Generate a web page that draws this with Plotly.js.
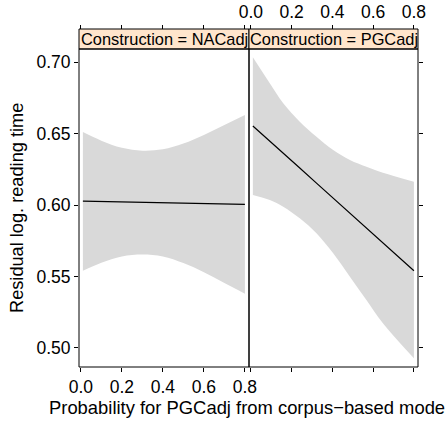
<!DOCTYPE html>
<html>
<head>
<meta charset="utf-8">
<script src="https://cdn.plot.ly/plotly-3.0.1.min.js"></script>
<style>html,body{margin:0;padding:0;background:#fff;}#chart{width:445px;height:422px;}</style>
</head>
<body>
<div id="chart"></div>
<script>
// Panel labels
var panels = ["Construction = NACadj", "Construction = PGCadj"];

// NACadj panel
var xNAC = [0.01, 0.1, 0.2, 0.3, 0.4, 0.5, 0.6, 0.7, 0.80];
var fitNAC = [0.6027, 0.6024, 0.6021, 0.6018, 0.6015, 0.6012, 0.6009, 0.6006, 0.6004];
var upperNAC = [0.651, 0.645, 0.640, 0.638, 0.639, 0.643, 0.649, 0.656, 0.663];
var lowerNAC = [0.554, 0.5596, 0.564, 0.5654, 0.564, 0.5594, 0.553, 0.5454, 0.538];

// PGCadj panel
var xPGC = [0.01, 0.093, 0.159, 0.24, 0.322, 0.404, 0.486, 0.567, 0.648, 0.80];
var fitPGC = [0.6553, 0.6449, 0.6364, 0.6259, 0.6153, 0.6047, 0.5942, 0.5837, 0.5732, 0.5540];
var upperPGC = [0.7033, 0.6851, 0.6711, 0.6583, 0.6478, 0.6385, 0.6315, 0.6268, 0.6226, 0.6163];
var lowerPGC = [0.607, 0.6035, 0.5988, 0.5907, 0.5802, 0.5662, 0.5499, 0.5336, 0.5173, 0.4928];

// Ticks
var xTickVals = [0, 0.2, 0.4, 0.6, 0.8];
var xTickText = ["0.0", "0.2", "0.4", "0.6", "0.8"];
var yTickVals = [0.50, 0.55, 0.60, 0.65, 0.70];
var yTickText = ["0.50", "0.55", "0.60", "0.65", "0.70"];

var xTitle = "Probability for PGCadj from corpus\u2212based model";
var yTitle = "Residual log. reading time";

var FONT = "Liberation Sans, Arial, Helvetica, sans-serif";
var bandColor = "#D9D9D9";
var stripColor = "#FFE5CC";

function band(xs, lo, hi, xa, ya) {
  return [
    {x: xs, y: lo, xaxis: xa, yaxis: ya, type: "scatter", mode: "lines",
     line: {width: 0, shape: "spline", color: bandColor}, hoverinfo: "skip", showlegend: false},
    {x: xs, y: hi, xaxis: xa, yaxis: ya, type: "scatter", mode: "lines", fill: "tonexty",
     fillcolor: bandColor, line: {width: 0, shape: "spline", color: bandColor}, hoverinfo: "skip", showlegend: false}
  ];
}
function fitLine(xs, ys, xa, ya) {
  return {x: xs, y: ys, xaxis: xa, yaxis: ya, type: "scatter", mode: "lines",
          line: {width: 1.2, color: "#000"}, hoverinfo: "skip", showlegend: false};
}
// invisible carrier so the top (overlaying) axes are drawn
function carrier(xs, ys, xa, ya) {
  return {x: xs, y: ys, xaxis: xa, yaxis: ya, type: "scatter", mode: "lines", opacity: 0,
          line: {width: 0, color: "rgba(0,0,0,0)"}, hoverinfo: "skip", showlegend: false};
}

var data = []
  .concat(band(xNAC, lowerNAC, upperNAC, "x", "y"))
  .concat([fitLine(xNAC, fitNAC, "x", "y")])
  .concat(band(xPGC, lowerPGC, upperPGC, "x2", "y2"))
  .concat([fitLine(xPGC, fitPGC, "x2", "y2")])
  .concat([carrier(xNAC, fitNAC, "x3", "y"), carrier(xPGC, fitPGC, "x4", "y2")]);

var xr = [-0.009, 0.82];
var yr = [0.4867, 0.7091];
var yTop = 318 / 338;
var split = 170 / 339;
var TICK = 17.5;

function xAxisBase(domain) {
  return {domain: domain, range: xr, autorange: false, tickvals: xTickVals, ticktext: xTickText,
          ticks: "outside", ticklen: 4, tickwidth: 1, tickcolor: "#000",
          showgrid: false, zeroline: false, showline: false, fixedrange: true,
          tickfont: {family: FONT, size: TICK, color: "#000"}};
}

var layout = {
  width: 445, height: 422,
  margin: {l: 79, r: 27, t: 29, b: 55, pad: 0},
  paper_bgcolor: "#fff", plot_bgcolor: "#fff",
  font: {family: FONT, color: "#000"},
  showlegend: false,
  xaxis: Object.assign(xAxisBase([0, split]), {anchor: "y", side: "bottom", showticklabels: true}),
  xaxis2: Object.assign(xAxisBase([split, 1]), {anchor: "y2", side: "bottom", showticklabels: false}),
  xaxis3: Object.assign(xAxisBase([0, split]), {overlaying: "x", anchor: "free", position: 1, side: "top", showticklabels: false}),
  xaxis4: Object.assign(xAxisBase([split, 1]), {overlaying: "x2", anchor: "free", position: 1, side: "top", showticklabels: true}),
  yaxis: {domain: [0, yTop], range: yr, autorange: false, anchor: "x", side: "left", tickvals: yTickVals, ticktext: yTickText,
          ticks: "outside", ticklen: 4, tickcolor: "#000", showgrid: false, zeroline: false, showline: false,
          tickfont: {family: FONT, size: TICK, color: "#000"}, fixedrange: true},
  yaxis2: {domain: [0, yTop], range: yr, autorange: false, anchor: "x2", side: "right", tickvals: yTickVals,
           ticks: "outside", ticklen: 4, tickcolor: "#000", showgrid: false, zeroline: false, showline: false,
           showticklabels: false, fixedrange: true},
  shapes: [
    {type: "rect", xref: "x domain", yref: "y domain", x0: 0, x1: 1, y0: 0, y1: 1, line: {color: "#000", width: 1}},
    {type: "rect", xref: "x2 domain", yref: "y2 domain", x0: 0, x1: 1, y0: 0, y1: 1, line: {color: "#000", width: 1}},
    {type: "rect", xref: "x domain", yref: "paper", x0: 0, x1: 1, y0: yTop, y1: 1, fillcolor: stripColor, line: {color: "#000", width: 1}, layer: "below"},
    {type: "rect", xref: "x2 domain", yref: "paper", x0: 0, x1: 1, y0: yTop, y1: 1, fillcolor: stripColor, line: {color: "#000", width: 1}, layer: "below"}
  ],
  annotations: [
    {text: panels[0], xref: "x domain", yref: "paper", x: 0.5, y: (yTop + 1) / 2, xanchor: "center", yanchor: "middle",
     showarrow: false, font: {family: FONT, size: 16.4, color: "#000"}},
    {text: panels[1], xref: "x2 domain", yref: "paper", x: 0.5, y: (yTop + 1) / 2, xanchor: "center", yanchor: "middle",
     showarrow: false, font: {family: FONT, size: 16.4, color: "#000"}},
    {text: xTitle, xref: "paper", yref: "paper", x: 0.5, y: (367 - 407.5) / 338, xanchor: "center", yanchor: "middle",
     showarrow: false, font: {family: FONT, size: 18.4, color: "#000"}},
    {text: yTitle, xref: "paper", yref: "paper", x: (17 - 79) / 339, y: (367 - 208) / 338, xanchor: "center", yanchor: "middle",
     textangle: -90, showarrow: false, font: {family: FONT, size: 18.2, color: "#000"}}
  ]
};

Plotly.newPlot("chart", data, layout, {staticPlot: true, displayModeBar: false});
</script>
</body>
</html>
